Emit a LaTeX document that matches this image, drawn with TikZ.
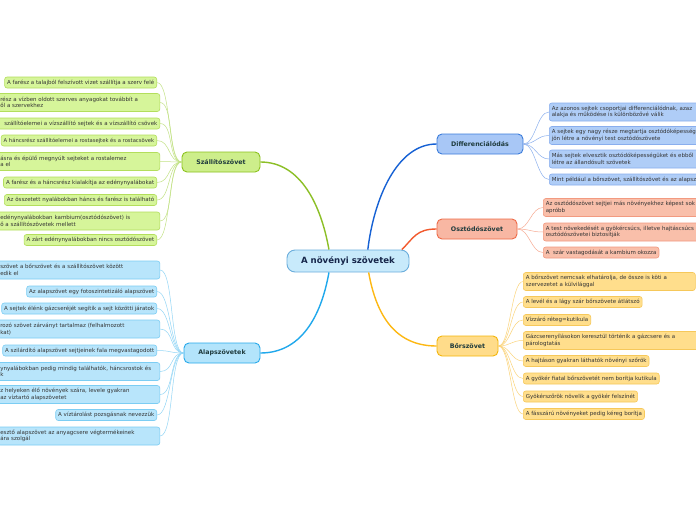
\documentclass[tikz,border=0pt]{standalone}
\usepackage{fontspec}
\setmainfont{DejaVu Sans}
\definecolor{cfill}{HTML}{C8EAFB}
\definecolor{cdraw}{HTML}{6BAEDC}
\definecolor{ctext}{HTML}{16264A}
\definecolor{btext}{HTML}{1F3B3D}
\definecolor{ltext}{HTML}{333333}
\definecolor{szfill}{HTML}{CDEE8B}
\definecolor{szdraw}{HTML}{8CC21E}
\definecolor{szlfill}{HTML}{D6F59A}
\definecolor{szldraw}{HTML}{B3DE5C}
\definecolor{szmain}{HTML}{8CBF26}
\definecolor{szline}{HTML}{C2E285}
\definecolor{alfill}{HTML}{B3E4FB}
\definecolor{aldraw}{HTML}{27A9EB}
\definecolor{allfill}{HTML}{B8E5FB}
\definecolor{alldraw}{HTML}{7CCDF3}
\definecolor{almain}{HTML}{20A8EC}
\definecolor{alline}{HTML}{92D6F6}
\definecolor{dfill}{HTML}{A8C7F6}
\definecolor{ddraw}{HTML}{3C7DDB}
\definecolor{dlfill}{HTML}{AFCDF7}
\definecolor{dldraw}{HTML}{89AEEE}
\definecolor{dmain}{HTML}{1661D4}
\definecolor{dline}{HTML}{8DB1EE}
\definecolor{ofill}{HTML}{F8B7A3}
\definecolor{odraw}{HTML}{EE6B48}
\definecolor{olfill}{HTML}{F9BFAA}
\definecolor{oldraw}{HTML}{F29A80}
\definecolor{omain}{HTML}{F25A2E}
\definecolor{oline}{HTML}{F7AA92}
\definecolor{bfill}{HTML}{FFDC8A}
\definecolor{bdraw}{HTML}{F4B60A}
\definecolor{blfill}{HTML}{FFDE8C}
\definecolor{bldraw}{HTML}{F6C85A}
\definecolor{bmain}{HTML}{FDB813}
\definecolor{bline}{HTML}{FBD47A}
\tikzset{
  leaf/.style={draw, rounded corners=2.5pt, line width=0.6pt, inner xsep=2.5pt, inner ysep=1pt,
    font=\fontsize{5.5}{6.5}\selectfont, text=ltext, align=left, minimum height=11pt},
  twol/.style={minimum height=18pt},
  szleaf/.style={leaf, fill=szlfill, draw=szldraw},
  alleaf/.style={leaf, fill=allfill, draw=alldraw},
  dleaf/.style={leaf, fill=dlfill, draw=dldraw},
  oleaf/.style={leaf, fill=olfill, draw=oldraw},
  bleaf/.style={leaf, fill=blfill, draw=bldraw},
  cutleft/.style={anchor=west, text width=157pt},
  cutleftr/.style={anchor=west, text width=157pt, align=right},
  cutright/.style={anchor=west, text width=200pt},
  fullleft/.style={anchor=east},
  fullright/.style={anchor=west},
  branch/.style={draw, rounded corners=5pt, line width=0.9pt, inner sep=0pt,
    font=\bfseries\fontsize{6.3}{7}\selectfont, text=btext, minimum height=20pt},
  mainline/.style={line width=1.4pt},
  leafline/.style={line width=0.5pt},
}
\begin{document}
\begin{tikzpicture}[x=1pt,y=-1pt]
\useasboundingbox (0,0) rectangle (696,520);
\fill[white] (0,0) rectangle (696,520);
\clip (0,0) rectangle (696,520);

% central node
\node[draw=cdraw, fill=cfill, line width=0.9pt, rounded corners=8pt, minimum width=122pt, minimum height=22pt,
  font=\bfseries\fontsize{8.6}{10}\selectfont, text=ctext] (c) at (348,261) {A növényi szövetek};

% branches
\node[branch, fill=dfill, draw=ddraw, minimum width=86pt] (d) at (480,144) {Differenciálódás};
\node[branch, fill=ofill, draw=odraw, minimum width=80pt] (o) at (477,229) {Osztódószövet};
\node[branch, fill=bfill, draw=bdraw, minimum width=61pt] (b) at (467.5,346) {Bőrszövet};
\node[branch, fill=szfill, draw=szdraw, minimum width=78pt] (sz) at (221,162) {Szállítószövet};
\node[branch, fill=alfill, draw=aldraw, minimum width=76pt] (al) at (222,353) {Alapszövetek};

% Szallitoszovet leaves
\node[szleaf, fullleft] (sz1) at (157,82.5) {A farész a talajból felszívott vizet szállítja a szerv felé};
\node[szleaf, cutleft, twol] (sz2) at (-2.5,102.5) {rész a vízben oldott szerves anyagokat továbbít a\\ől a szervekhez};
\node[szleaf, cutleftr] (sz3) at (-2.5,123.5) {szállítóelemei a vízszállító sejtek és a vízszállító csövek};
\node[szleaf, fullleft, font=\fontsize{5.25}{6.5}\selectfont] (sz4) at (157,140.5) {A háncsrész szállítóelemei a rostasejtek és a rostacsövek};
\node[szleaf, cutleft, twol] (sz5) at (-2.5,161.5) {ásra és épülő megnyúlt sejteket a rostalemez\\a el};
\node[szleaf, fullleft] (sz6) at (157,182.5) {A farész és a háncsrész kialakítja az edénynyalábokat};
\node[szleaf, fullleft] (sz7) at (157,200) {Az összetett nyalábokban háncs és farész is található};
\node[szleaf, cutleft, twol] (sz8) at (-2.5,221) {edénynyalábokban kambium(osztódószövet) is\\ő a szállítószövetek mellett};
\node[szleaf, fullleft] (sz9) at (157,240) {A zárt edénynyalábokban nincs osztódószövet};

% Alapszovetek leaves
\node[alleaf, cutleft, twol] (al1) at (-2.5,270) {szövet a bőrszövet és a szállítószövet között\\edik el};
\node[alleaf, fullleft] (al2) at (157,291.5) {Az alapszövet egy fotoszintetizáló alapszövet};
\node[alleaf, fullleft] (al3) at (157,308.5) {A sejtek élénk gázcseréjét segítik a sejt közötti járatok};
\node[alleaf, cutleft, twol] (al4) at (-2.5,329) {rozó szövet zárványt tartalmaz (felhalmozott\\kat)};
\node[alleaf, fullleft] (al5) at (157,350.5) {A szilárdító alapszövet sejtjeinek fala megvastagodott};
\node[alleaf, cutleft, twol] (al6) at (-2.5,371.5) {ynyalábokban pedig mindig találhatók, háncsrostok és\\k};
\node[alleaf, cutleft, twol] (al7) at (-2.5,394.5) {z helyeken élő növények szára, levele gyakran\\az víztartó alapszövetet};
\node[alleaf, fullleft] (al8) at (157,415) {A víztárolást pozsgásnak nevezzük};
\node[alleaf, cutleft, twol] (al9) at (-2.5,436) {esztő alapszövet az anyagcsere végtermékeinek\\ára szolgál};

% Differencialodas leaves
\node[dleaf, cutright, twol] (d1) at (549,112) {Az azonos sejtek csoportjai differenciálódnak, azaz\\alakja és működése is különbözővé válik};
\node[dleaf, cutright, twol] (d2) at (549,135.5) {A sejtek egy nagy része megtartja osztódóképesség\\jön létre a növényi test osztódószövete};
\node[dleaf, cutright, twol] (d3) at (549,159) {Más sejtek elvesztik osztódóképességüket és ebből\\létre az állandósult szövetek};
\node[dleaf, cutright] (d4) at (549,179.5) {Mint például a bőrszövet, szállítószövet és az alapszö};

% Osztodoszovet leaves
\node[oleaf, cutright, twol] (o1) at (543,207.5) {Az osztódószövet sejtjei más növényekhez képest sok\\apróbb};
\node[oleaf, cutright, twol] (o2) at (543,232) {A test növekedését a gyökércsúcs, illetve hajtáscsúcs\\osztódószövetei biztosítják};
\node[oleaf, fullright] (o3) at (543,252.5) {A~ szár vastagodását a kambium okozza};

% Borszovet leaves
\node[bleaf, fullright, twol, text width=167pt] (b1) at (523,281.5) {A bőrszövet nemcsak elhatárolja, de össze is köti a\\szervezetet a külvilággal};
\node[bleaf, fullright] (b2) at (523,302) {A levél és a lágy szár bőrszövete átlátszó};
\node[bleaf, fullright] (b3) at (523,320) {Vízzáró réteg=kutikula};
\node[bleaf, cutright, twol] (b4) at (523,340.5) {Gázcserenyílásokon keresztül történik a gázcsere és a\\párologtatás};
\node[bleaf, fullright] (b5) at (523,361) {A hajtáson gyakran láthatók növényi szőrök};
\node[bleaf, fullright] (b6) at (523,378.5) {A gyökér fiatal bőrszövetét nem borítja kutikula};
\node[bleaf, fullright] (b7) at (523,396.5) {Gyökérszőrök növelik a gyökér felszínét};
\node[bleaf, fullright] (b8) at (523,414) {A fásszárú növényeket pedig kéreg borítja};

% main connectors
\draw[mainline, szmain] (c.149) .. controls +(-8,-45) and +(40,0) .. (sz.east);
\draw[mainline, dmain] (c.30) .. controls +(6,-50) and +(-40,0) .. (d.west);
\draw[mainline, omain] (c.12) .. controls +(12,-12) and +(-20,0) .. (o.west);
\draw[mainline, bmain] (c.-29) .. controls +(8,45) and +(-40,0) .. (b.west);
\draw[mainline, almain] (c.211) .. controls +(-8,45) and +(40,0) .. (al.east);

% leaf connectors
\foreach \i in {1,...,9} {
  \draw[leafline, szline] (sz.west) .. controls +(-14,0) and +(14,0) .. (sz\i.east);
  \draw[leafline, alline] (al.west) .. controls +(-14,0) and +(14,0) .. (al\i.east);
}
\foreach \i in {1,...,4} {
  \draw[leafline, dline] (d.east) .. controls +(12,0) and +(-12,0) .. (d\i.west);
}
\foreach \i in {1,...,3} {
  \draw[leafline, oline] (o.east) .. controls +(12,0) and +(-12,0) .. (o\i.west);
}
\foreach \i in {1,...,8} {
  \draw[leafline, bline] (b.east) .. controls +(12,0) and +(-12,0) .. (b\i.west);
}
\end{tikzpicture}
\end{document}
